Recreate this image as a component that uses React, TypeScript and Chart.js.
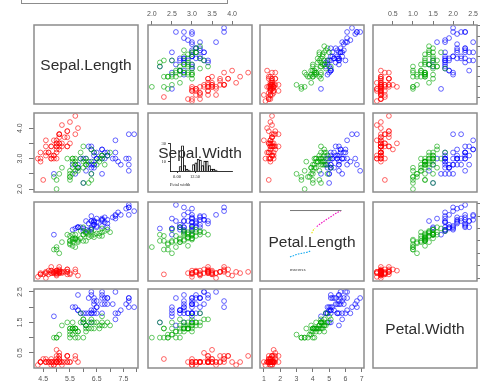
import React, { useEffect, useRef } from "react";
import { Chart, registerables } from "chart.js";

Chart.register(...registerables);
Chart.defaults.font.family = "'Liberation Sans', Arial, Helvetica, sans-serif";

// ---------- data ----------
const variableNames = ["Sepal.Length", "Sepal.Width", "Petal.Length", "Petal.Width"];
const speciesNames = ["setosa", "versicolor", "virginica"];
const speciesCounts = [50, 50, 50];

const sepalLength = [
  5.1, 4.9, 4.7, 4.6, 5.0, 5.4, 4.6, 5.0, 4.4, 4.9, 5.4, 4.8, 4.8, 4.3, 5.8, 5.7, 5.4, 5.1, 5.7, 5.1, 5.4, 5.1, 4.6, 5.1, 4.8,
  5.0, 5.0, 5.2, 5.2, 4.7, 4.8, 5.4, 5.2, 5.5, 4.9, 5.0, 5.5, 4.9, 4.4, 5.1, 5.0, 4.5, 4.4, 5.0, 5.1, 4.8, 5.1, 4.6, 5.3, 5.0,
  7.0, 6.4, 6.9, 5.5, 6.5, 5.7, 6.3, 4.9, 6.6, 5.2, 5.0, 5.9, 6.0, 6.1, 5.6, 6.7, 5.6, 5.8, 6.2, 5.6, 5.9, 6.1, 6.3, 6.1, 6.4,
  6.6, 6.8, 6.7, 6.0, 5.7, 5.5, 5.5, 5.8, 6.0, 5.4, 6.0, 6.7, 6.3, 5.6, 5.5, 5.5, 6.1, 5.8, 5.0, 5.6, 5.7, 5.7, 6.2, 5.1, 5.7,
  6.3, 5.8, 7.1, 6.3, 6.5, 7.6, 4.9, 7.3, 6.7, 7.2, 6.5, 6.4, 6.8, 5.7, 5.8, 6.4, 6.5, 7.7, 7.7, 6.0, 6.9, 5.6, 7.7, 6.3, 6.7,
  7.2, 6.2, 6.1, 6.4, 7.2, 7.4, 7.9, 6.4, 6.3, 6.1, 7.7, 6.3, 6.4, 6.0, 6.9, 6.7, 6.9, 5.8, 6.8, 6.7, 6.7, 6.3, 6.5, 6.2, 5.9,
];
const sepalWidth = [
  3.5, 3.0, 3.2, 3.1, 3.6, 3.9, 3.4, 3.4, 2.9, 3.1, 3.7, 3.4, 3.0, 3.0, 4.0, 4.4, 3.9, 3.5, 3.8, 3.8, 3.4, 3.7, 3.6, 3.3, 3.4,
  3.0, 3.4, 3.5, 3.4, 3.2, 3.1, 3.4, 4.1, 4.2, 3.1, 3.2, 3.5, 3.6, 3.0, 3.4, 3.5, 2.3, 3.2, 3.5, 3.8, 3.0, 3.8, 3.2, 3.7, 3.3,
  3.2, 3.2, 3.1, 2.3, 2.8, 2.8, 3.3, 2.4, 2.9, 2.7, 2.0, 3.0, 2.2, 2.9, 2.9, 3.1, 3.0, 2.7, 2.2, 2.5, 3.2, 2.8, 2.5, 2.8, 2.9,
  3.0, 2.8, 3.0, 2.9, 2.6, 2.4, 2.4, 2.7, 2.7, 3.0, 3.4, 3.1, 2.3, 3.0, 2.5, 2.6, 3.0, 2.6, 2.3, 2.7, 3.0, 2.9, 2.9, 2.5, 2.8,
  3.3, 2.7, 3.0, 2.9, 3.0, 3.0, 2.5, 2.9, 2.5, 3.6, 3.2, 2.7, 3.0, 2.5, 2.8, 3.2, 3.0, 3.8, 2.6, 2.2, 3.2, 2.8, 2.8, 2.7, 3.3,
  3.2, 2.8, 3.0, 2.8, 3.0, 2.8, 3.8, 2.8, 2.8, 2.6, 3.0, 3.4, 3.1, 3.0, 3.1, 3.1, 3.1, 2.7, 3.2, 3.3, 3.0, 2.5, 3.0, 3.4, 3.0,
];
const petalLength = [
  1.4, 1.4, 1.3, 1.5, 1.4, 1.7, 1.4, 1.5, 1.4, 1.5, 1.5, 1.6, 1.4, 1.1, 1.2, 1.5, 1.3, 1.4, 1.7, 1.5, 1.7, 1.5, 1.0, 1.7, 1.9,
  1.6, 1.6, 1.5, 1.4, 1.6, 1.6, 1.5, 1.5, 1.4, 1.5, 1.2, 1.3, 1.4, 1.3, 1.5, 1.3, 1.3, 1.3, 1.6, 1.9, 1.4, 1.6, 1.4, 1.5, 1.4,
  4.7, 4.5, 4.9, 4.0, 4.6, 4.5, 4.7, 3.3, 4.6, 3.9, 3.5, 4.2, 4.0, 4.7, 3.6, 4.4, 4.5, 4.1, 4.5, 3.9, 4.8, 4.0, 4.9, 4.7, 4.3,
  4.4, 4.8, 5.0, 4.5, 3.5, 3.8, 3.7, 3.9, 5.1, 4.5, 4.5, 4.7, 4.4, 4.1, 4.0, 4.4, 4.6, 4.0, 3.3, 4.2, 4.2, 4.2, 4.3, 3.0, 4.1,
  6.0, 5.1, 5.9, 5.6, 5.8, 6.6, 4.5, 6.3, 5.8, 6.1, 5.1, 5.3, 5.5, 5.0, 5.1, 5.3, 5.5, 6.7, 6.9, 5.0, 5.7, 4.9, 6.7, 4.9, 5.7,
  6.0, 4.8, 4.9, 5.6, 5.8, 6.1, 6.4, 5.6, 5.1, 5.6, 6.1, 5.6, 5.5, 4.8, 5.4, 5.6, 5.1, 5.1, 5.9, 5.7, 5.2, 5.0, 5.2, 5.4, 5.1,
];
const petalWidth = [
  0.2, 0.2, 0.2, 0.2, 0.2, 0.4, 0.3, 0.2, 0.2, 0.1, 0.2, 0.2, 0.1, 0.1, 0.2, 0.4, 0.4, 0.3, 0.3, 0.3, 0.2, 0.4, 0.2, 0.5, 0.2,
  0.2, 0.4, 0.2, 0.2, 0.2, 0.2, 0.4, 0.1, 0.2, 0.2, 0.2, 0.2, 0.1, 0.2, 0.2, 0.3, 0.3, 0.2, 0.6, 0.4, 0.3, 0.2, 0.2, 0.2, 0.2,
  1.4, 1.5, 1.5, 1.3, 1.5, 1.3, 1.6, 1.0, 1.3, 1.4, 1.0, 1.5, 1.0, 1.4, 1.3, 1.4, 1.5, 1.0, 1.5, 1.1, 1.8, 1.3, 1.5, 1.2, 1.3,
  1.4, 1.4, 1.7, 1.5, 1.0, 1.1, 1.0, 1.2, 1.6, 1.5, 1.6, 1.5, 1.3, 1.3, 1.3, 1.2, 1.4, 1.2, 1.0, 1.3, 1.2, 1.3, 1.3, 1.1, 1.3,
  2.5, 1.9, 2.1, 1.8, 2.2, 2.1, 1.7, 1.8, 1.8, 2.5, 2.0, 1.9, 2.1, 2.0, 2.4, 2.3, 1.8, 2.2, 2.3, 1.5, 2.3, 2.0, 2.0, 1.8, 2.1,
  1.8, 1.8, 1.8, 2.1, 1.6, 1.9, 2.0, 2.2, 1.5, 1.4, 2.3, 2.4, 1.8, 1.8, 2.1, 2.4, 2.3, 1.9, 2.3, 2.5, 2.3, 1.9, 2.0, 2.3, 1.8,
];

// tick values and labels
const sepalLengthTicks = [4.5, 5.0, 5.5, 6.0, 6.5, 7.0, 7.5, 8.0];
const sepalLengthLabels = ["4.5", "", "5.5", "", "6.5", "", "7.5", ""];
const sepalWidthTicks = [2.0, 2.5, 3.0, 3.5, 4.0];
const sepalWidthTopLabels = ["2.0", "2.5", "3.0", "3.5", "4.0"];
const sepalWidthSideLabels = ["2.0", "", "3.0", "", "4.0"];
const petalLengthTicks = [1, 2, 3, 4, 5, 6, 7];
const petalLengthLabels = ["1", "2", "3", "4", "5", "6", "7"];
const petalWidthTicks = [0.5, 1.0, 1.5, 2.0, 2.5];
const petalWidthTopLabels = ["0.5", "1.0", "1.5", "2.0", "2.5"];
const petalWidthSideLabels = ["0.5", "", "1.5", "", "2.5"];

// small histogram overlay (Sepal.Width panel)
const histBinCenters = [2.2, 3.8, 5.3, 6.9, 8.4, 11.5, 13.1, 14.7, 16.2, 17.8, 19.3, 20.9, 22.5, 24.0, 25.6, 27.1];
const histCounts = [5, 28, 6, 2, 1, 7, 9, 13, 12, 6, 11, 11, 6, 2, 2, 1];
const histXTicks = [0, 12.5];
const histXLabels = ["0.00", "12.50"];
const histYTicks = [10, 30];
const histYLabels = ["10", "30"];

// small score curve overlay (Petal.Length panel)
const scoreCyanX = [0, 3, 6.5, 11, 16.3, 21, 26.1, 31, 35.9, 41.2];
const scoreCyanY = [0, 1.5, 2.8, 4.8, 6.5, 7.6, 8.7, 9.8, 10.9, 14.3];
const scoreYellowX = [42.5, 45.7, 49];
const scoreYellowY = [51.5, 58.7, 62.4];
const scoreMagentaX = [52.4, 58.8, 65.3, 72, 78.4, 85, 90.2, 94.7, 99.4];
const scoreMagentaY = [65.9, 71.7, 76.7, 82, 86.3, 91.3, 95, 97.8, 100];
const scoreRuleX = [0, 101];
const scoreRuleY = [101, 101];

// ---------- layout / style ----------
const M = 36;
const colLefts = [34, 148, 260, 373];
const rowTops = [25, 113, 202, 289];
const panelW = 104;
const panelH = 79;
const speciesColors = ["rgba(255,0,0,0.6)", "rgba(0,165,0,0.6)", "rgba(0,0,255,0.6)"];
const tickFont = { size: 7 };
const tickColor = "#555";
const lineColor = "#777";
const serif = "'Liberation Serif', 'DejaVu Serif', serif";

const variables = [sepalLength, sepalWidth, petalLength, petalWidth];
const varTicks = [sepalLengthTicks, sepalWidthTicks, petalLengthTicks, petalWidthTicks];
const varTopBottomLabels = [sepalLengthLabels, sepalWidthTopLabels, petalLengthLabels, petalWidthTopLabels];
const varSideLabels = [sepalLengthLabels, sepalWidthSideLabels, petalLengthLabels, petalWidthSideLabels];

function extendRange(values: number[]) {
  const lo = Math.min(...values);
  const hi = Math.max(...values);
  const d = (hi - lo) * 0.04;
  return [lo - d, hi + d];
}

function speciesIndexGroups() {
  const groups: number[][] = [];
  let start = 0;
  speciesCounts.forEach((n) => {
    const g: number[] = [];
    for (let i = start; i < start + n; i++) g.push(i);
    groups.push(g);
    start += n;
  });
  return groups;
}

const boxPlugin = {
  id: "panelBox",
  afterDraw(chart: any) {
    const { ctx, chartArea: a } = chart;
    ctx.save();
    ctx.strokeStyle = "#8c8c8c";
    ctx.lineWidth = 1.5;
    ctx.strokeRect(a.left, a.top, a.right - a.left, a.bottom - a.top);
    ctx.restore();
  },
};

type Area = { x: number; y: number; w: number; h: number };

function PlacedChart({ area, makeConfig }: { area: Area; makeConfig: () => any }) {
  const ref = useRef<HTMLCanvasElement>(null);
  useEffect(() => {
    const chart = new Chart(ref.current as HTMLCanvasElement, makeConfig());
    return () => chart.destroy();
  }, []);
  const W = area.w + 2 * M;
  const H = area.h + 2 * M;
  return (
    <canvas
      ref={ref}
      width={W}
      height={H}
      style={{ position: "absolute", left: area.x - M, top: area.y - M, width: W, height: H }}
    />
  );
}

function fixSize(horizontal: boolean) {
  return (s: any) => {
    if (!s.options.display) return;
    if (horizontal) s.height = M;
    else s.width = M;
  };
}

function axis(p: {
  horizontal: boolean;
  position: string;
  display: boolean;
  range: number[];
  ticks: number[];
  labels: string[];
}) {
  const rotated = !p.horizontal;
  return {
    type: "linear",
    position: p.position,
    display: p.display,
    min: p.range[0],
    max: p.range[1],
    afterBuildTicks: (s: any) => {
      s.ticks = p.ticks.map((v) => ({ value: v }));
    },
    afterFit: fixSize(p.horizontal),
    grid: {
      display: true,
      drawOnChartArea: false,
      drawTicks: true,
      tickLength: p.horizontal ? 4 : 5,
      color: lineColor,
      lineWidth: 1,
    },
    border: { display: false },
    ticks: {
      autoSkip: false,
      minRotation: rotated ? 90 : 0,
      maxRotation: rotated ? 90 : 0,
      crossAlign: rotated ? "center" : "near",
      padding: p.horizontal ? 3 : 4,
      color: tickColor,
      font: tickFont,
      callback: (_v: any, i: number) => p.labels[i] ?? "",
    },
  };
}

function panelConfig(r: number, c: number) {
  const diag = r === c;
  const showTop = r === 0 && c % 2 === 1;
  const showBottom = r === 3 && c % 2 === 0;
  const showLeft = c === 0 && r % 2 === 1;
  const showRight = c === 3 && r % 2 === 0;
  const xRange = extendRange(variables[c]);
  const yRange = extendRange(variables[r]);
  const groups = speciesIndexGroups();
  const datasets = diag
    ? []
    : groups.map((g, k) => ({
        label: speciesNames[k],
        data: g.map((i) => ({ x: variables[c][i], y: variables[r][i] })),
        showLine: false,
        pointRadius: 2.4,
        pointBorderWidth: 1,
        pointBackgroundColor: "rgba(0,0,0,0)",
        pointBorderColor: speciesColors[k],
      }));
  return {
    type: "scatter",
    data: { datasets },
    options: {
      responsive: false,
      animation: false,
      events: [],
      layout: {
        padding: {
          top: showTop ? 0 : M,
          bottom: showBottom ? 0 : M,
          left: showLeft ? 0 : M,
          right: showRight ? 0 : M,
        },
      },
      plugins: { legend: { display: false }, tooltip: { enabled: false } },
      scales: {
        x: axis({
          horizontal: true,
          position: showTop ? "top" : "bottom",
          display: showTop || showBottom,
          range: xRange,
          ticks: varTicks[c],
          labels: varTopBottomLabels[c],
        }),
        y: axis({
          horizontal: false,
          position: showRight ? "right" : "left",
          display: showLeft || showRight,
          range: yRange,
          ticks: varTicks[r],
          labels: varSideLabels[r],
        }),
      },
    },
    plugins: [boxPlugin],
  };
}

function histConfig() {
  return {
    type: "bar",
    data: {
      datasets: [
        {
          label: "Petal width",
          data: histCounts.map((n, i) => ({ x: histBinCenters[i], y: n })),
          backgroundColor: "#ffffff",
          borderColor: "#000000",
          borderWidth: 0.9,
          barPercentage: 1,
          categoryPercentage: 1,
        },
      ],
    },
    options: {
      responsive: false,
      animation: false,
      events: [],
      layout: { padding: { top: M, right: M, left: 0, bottom: 0 } },
      plugins: { legend: { display: false }, tooltip: { enabled: false } },
      scales: {
        x: {
          type: "linear",
          offset: false,
          min: -4.9,
          max: 38.2,
          afterBuildTicks: (s: any) => {
            s.ticks = histXTicks.map((v) => ({ value: v }));
          },
          afterFit: fixSize(true),
          grid: { offset: false, drawOnChartArea: false, tickLength: 2, color: "#000", lineWidth: 0.8 },
          border: { display: true, color: "#000", width: 0.8 },
          ticks: {
            autoSkip: false,
            maxRotation: 0,
            padding: 1.5,
            color: "#222",
            font: { family: serif, size: 4.5 },
            callback: (_v: any, i: number) => histXLabels[i] ?? "",
          },
          title: {
            display: true,
            text: "Petal width",
            align: "start",
            color: "#222",
            font: { family: serif, size: 4.5 },
            padding: { top: 0, bottom: 19 },
          },
        },
        y: {
          type: "linear",
          min: 0,
          max: 31,
          afterBuildTicks: (s: any) => {
            s.ticks = histYTicks.map((v) => ({ value: v }));
          },
          afterFit: fixSize(false),
          grid: { drawOnChartArea: false, tickLength: 2, color: "#000", lineWidth: 0.8 },
          border: { display: true, color: "#000", width: 0.8 },
          ticks: {
            autoSkip: false,
            padding: 2,
            color: "#222",
            font: { family: serif, size: 4.5 },
            callback: (_v: any, i: number) => histYLabels[i] ?? "",
          },
        },
      },
    },
  };
}

function scoreConfig() {
  const pts = (xs: number[], ys: number[]) => xs.map((x, i) => ({ x, y: ys[i] }));
  const curve = (data: any, color: string) => ({
    data,
    showLine: true,
    borderColor: color,
    borderWidth: 1.1,
    borderDash: [1.6, 1.2],
    pointRadius: 0,
    clip: false,
  });
  return {
    type: "scatter",
    data: {
      datasets: [
        {
          data: pts(scoreRuleX, scoreRuleY),
          showLine: true,
          borderColor: "#777",
          borderWidth: 1,
          pointRadius: 0,
          clip: false,
        },
        curve(pts(scoreCyanX, scoreCyanY), "#10a8f0"),
        curve(pts(scoreYellowX, scoreYellowY), "#e8e800"),
        curve(pts(scoreMagentaX, scoreMagentaY), "#f010c0"),
      ],
    },
    options: {
      responsive: false,
      animation: false,
      events: [],
      layout: { padding: { top: M, right: M, left: M, bottom: 0 } },
      plugins: { legend: { display: false }, tooltip: { enabled: false } },
      scales: {
        x: {
          type: "linear",
          min: 0,
          max: 100,
          afterFit: fixSize(true),
          grid: { display: false },
          border: { display: false },
          ticks: { display: false },
          title: {
            display: true,
            text: "mscores",
            align: "start",
            color: "#333",
            font: { family: serif, size: 4.8 },
            padding: { top: 0, bottom: 20 },
          },
        },
        y: { type: "linear", min: 0, max: 100, display: false },
      },
    },
  };
}

function DiagLabel({ r }: { r: number }) {
  return (
    <div
      style={{
        position: "absolute",
        left: colLefts[r],
        top: rowTops[r],
        width: panelW,
        height: panelH,
        display: "flex",
        alignItems: "center",
        justifyContent: "center",
        fontFamily: "'Liberation Sans', Arial, sans-serif",
        fontSize: 15.5,
        color: "#2e2e2e",
        whiteSpace: "nowrap",
        pointerEvents: "none",
      }}
    >
      {variableNames[r]}
    </div>
  );
}

export default function App() {
  const panels: React.ReactNode[] = [];
  for (let r = 0; r < 4; r++) {
    for (let c = 0; c < 4; c++) {
      panels.push(
        <PlacedChart
          key={`p${r}${c}`}
          area={{ x: colLefts[c], y: rowTops[r], w: panelW, h: panelH }}
          makeConfig={() => panelConfig(r, c)}
        />
      );
    }
  }
  return (
    <div
      style={{
        position: "fixed",
        left: 0,
        top: 0,
        width: 480,
        height: 385,
        overflow: "hidden",
        background: "#ffffff",
      }}
    >
      <div
        style={{
          position: "absolute",
          left: 21,
          top: -12,
          width: 207,
          height: 16,
          border: "1.5px solid #8c8c8c",
          boxSizing: "border-box",
        }}
      />
      {panels}
      <PlacedChart area={{ x: 170, y: 143, w: 62, h: 28 }} makeConfig={histConfig} />
      <PlacedChart area={{ x: 290, y: 211, w: 51, h: 46 }} makeConfig={scoreConfig} />
      {[0, 1, 2, 3].map((r) => (
        <DiagLabel key={`d${r}`} r={r} />
      ))}
    </div>
  );
}
